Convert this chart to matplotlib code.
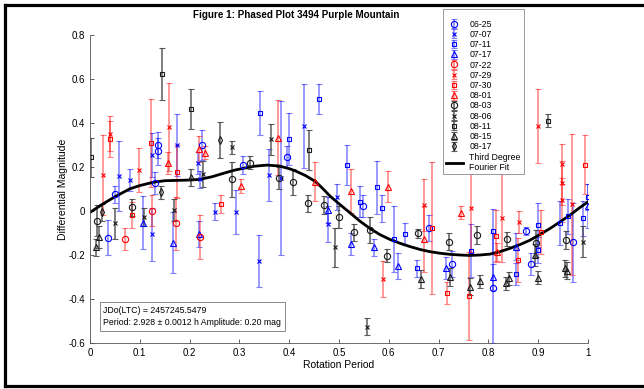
import numpy as np
import matplotlib
matplotlib.use('Agg')
import matplotlib.pyplot as plt
from matplotlib.lines import Line2D
from matplotlib.patches import Rectangle

plt.rcParams['font.family'] = ['Liberation Sans', 'DejaVu Sans']

# phase, differential magnitude and error for each night
p_0625 = [0.037, 0.05, 0.131, 0.137, 0.137, 0.225, 0.308, 0.395, 0.549, 0.681, 0.726, 0.81, 0.875, 0.886, 0.969]
m_0625 = [-0.122, 0.075, 0.128, 0.30, 0.27, 0.30, 0.208, 0.243, 0.022, -0.078, -0.243, -0.353, -0.092, -0.242, -0.143]
e_0625 = [0.08, 0.04, 0.05, 0.06, 0.06, 0.07, 0.04, 0.05, 0.05, 0.06, 0.06, 0.25, 0.02, 0.05, 0.18]

p_0707 = [0.058, 0.08, 0.124, 0.124, 0.175, 0.216, 0.221, 0.251, 0.294, 0.34, 0.359, 0.383, 0.429, 0.478, 0.495]
m_0707 = [0.158, 0.14, -0.107, 0.254, 0.30, 0.216, 0.143, -0.004, -0.007, -0.228, 0.163, 0.15, 0.387, -0.06, 0.064]
e_0707 = [0.16, 0.05, 0.12, 0.10, 0.14, 0.05, 0.04, 0.04, 0.10, 0.12, 0.12, 0.35, 0.19, 0.08, 0.06]

p_0711 = [0.341, 0.40, 0.459, 0.517, 0.542, 0.577, 0.586, 0.61, 0.633, 0.656, 0.766, 0.81, 0.855, 0.90, 0.90, 0.944, 0.96, 0.989, 0.999]
m_0711 = [0.445, 0.327, 0.509, 0.208, 0.041, 0.107, 0.011, -0.13, -0.107, -0.262, -0.181, -0.09, -0.288, -0.065, -0.178, -0.057, -0.025, -0.034, 0.064]
e_0711 = [0.10, 0.12, 0.07, 0.09, 0.07, 0.12, 0.06, 0.15, 0.05, 0.04, 0.12, 0.10, 0.05, 0.10, 0.06, 0.10, 0.08, 0.08, 0.06]

p_0717 = [0.106, 0.167, 0.219, 0.477, 0.524, 0.571, 0.619, 0.715, 0.809, 0.855, 0.999]
m_0717 = [-0.054, -0.145, -0.106, 0.004, -0.153, -0.166, -0.251, -0.262, -0.30, -0.163, 0.022]
e_0717 = [0.12, 0.14, 0.06, 0.06, 0.05, 0.04, 0.06, 0.05, 0.06, 0.06, 0.10]

p_0722 = [0.07, 0.124, 0.173, 0.221]
m_0722 = [-0.127, 0.0, -0.057, -0.12]
e_0722 = [0.05, 0.07, 0.12, 0.10]

p_0729 = [0.027, 0.04, 0.098, 0.159, 0.589, 0.671, 0.766, 0.827, 0.861, 0.90, 0.947, 0.947, 0.947, 0.967]
m_0729 = [0.163, 0.35, 0.186, 0.38, -0.31, 0.026, 0.011, -0.031, -0.052, 0.386, 0.213, 0.125, 0.049, 0.03]
e_0729 = [0.18, 0.08, 0.10, 0.20, 0.08, 0.12, 0.20, 0.20, 0.05, 0.17, 0.09, 0.10, 0.10, 0.32]

p_0730 = [0.04, 0.085, 0.122, 0.174, 0.264, 0.687, 0.716, 0.762, 0.815, 0.86, 0.905, 0.994]
m_0730 = [0.327, -0.019, 0.307, 0.178, 0.03, -0.078, -0.372, -0.388, -0.115, -0.224, -0.095, 0.21]
e_0730 = [0.08, 0.06, 0.20, 0.12, 0.04, 0.30, 0.05, 0.20, 0.12, 0.10, 0.10, 0.135]

p_0801 = [0.157, 0.219, 0.23, 0.303, 0.377, 0.452, 0.524, 0.598, 0.671, 0.744, 0.818]
m_0801 = [0.216, 0.281, 0.264, 0.113, 0.333, 0.133, 0.092, 0.11, -0.13, -0.008, -0.186]
e_0801 = [0.05, 0.06, 0.03, 0.03, 0.17, 0.09, 0.10, 0.07, 0.15, 0.03, 0.04]

p_0803 = [0.015, 0.085, 0.286, 0.321, 0.38, 0.408, 0.438, 0.469, 0.50, 0.53, 0.562, 0.596, 0.659, 0.72, 0.778, 0.837, 0.896, 0.955]
m_0803 = [-0.045, 0.016, 0.143, 0.219, 0.148, 0.13, 0.034, 0.026, -0.027, -0.098, -0.087, -0.205, -0.102, -0.14, -0.11, -0.128, -0.148, -0.133]
e_0803 = [0.07, 0.04, 0.08, 0.03, 0.05, 0.06, 0.04, 0.04, 0.05, 0.04, 0.06, 0.03, 0.02, 0.04, 0.04, 0.03, 0.06, 0.04]

p_0806 = [0.05, 0.109, 0.169, 0.227, 0.286, 0.363, 0.492, 0.557, 0.989]
m_0806 = [-0.057, -0.027, 0.004, 0.167, 0.289, 0.325, -0.166, -0.527, -0.14]
e_0806 = [0.07, 0.04, 0.05, 0.06, 0.03, 0.07, 0.09, 0.04, 0.07]

p_0811 = [0.002, 0.144, 0.203, 0.439, 0.92]
m_0811 = [0.243, 0.622, 0.463, 0.277, 0.41]
e_0811 = [0.09, 0.12, 0.09, 0.09, 0.03]

p_0815 = [0.012, 0.018, 0.202, 0.664, 0.723, 0.764, 0.783, 0.835, 0.842, 0.894, 0.90, 0.954, 0.958]
m_0815 = [-0.166, -0.12, 0.152, -0.31, -0.30, -0.345, -0.32, -0.33, -0.307, -0.20, -0.304, -0.262, -0.272]
e_0815 = [0.04, 0.05, 0.04, 0.04, 0.04, 0.04, 0.03, 0.03, 0.03, 0.05, 0.03, 0.04, 0.04]

p_0817 = [0.025, 0.143, 0.262]
m_0817 = [-0.007, 0.084, 0.322]
e_0817 = [0.04, 0.03, 0.08]

# third degree Fourier fit, sampled along the phase
fit_p = [0.0, 0.025, 0.05, 0.08, 0.10, 0.127, 0.15, 0.20, 0.22, 0.245, 0.267, 0.29, 0.307, 0.33,
         0.355, 0.38, 0.40, 0.413, 0.433, 0.453, 0.468, 0.482, 0.499, 0.522, 0.542, 0.562, 0.582,
         0.602, 0.623, 0.643, 0.663, 0.683, 0.703, 0.723, 0.743, 0.763, 0.783, 0.803, 0.823,
         0.843, 0.864, 0.884, 0.904, 0.924, 0.944, 0.964, 0.982, 1.0]
fit_m = [-0.007, 0.03, 0.064, 0.10, 0.115, 0.13, 0.137, 0.14, 0.143, 0.155, 0.17, 0.185, 0.193, 0.203,
         0.208, 0.204, 0.192, 0.181, 0.16, 0.133, 0.10, 0.067, 0.034, -0.009, -0.047, -0.08, -0.108,
         -0.13, -0.148, -0.163, -0.176, -0.186, -0.193, -0.198, -0.201, -0.203, -0.201, -0.197, -0.186,
         -0.171, -0.153, -0.133, -0.107, -0.08, -0.05, -0.019, 0.012, 0.041]

blue = (0.0, 0.0, 1.0)
red = (1.0, 0.0, 0.0)
black = (0.1, 0.1, 0.1)

series = [
    ('06-25', p_0625, m_0625, e_0625, blue, 'o', 4.5),
    ('07-07', p_0707, m_0707, e_0707, blue, 'x', 3.5),
    ('07-11', p_0711, m_0711, e_0711, blue, 's', 3.5),
    ('07-17', p_0717, m_0717, e_0717, blue, '^', 4.5),
    ('07-22', p_0722, m_0722, e_0722, red, 'o', 4.5),
    ('07-29', p_0729, m_0729, e_0729, red, 'x', 3.5),
    ('07-30', p_0730, m_0730, e_0730, red, 's', 3.5),
    ('08-01', p_0801, m_0801, e_0801, red, '^', 4.5),
    ('08-03', p_0803, m_0803, e_0803, black, 'o', 4.5),
    ('08-06', p_0806, m_0806, e_0806, black, 'x', 3.5),
    ('08-11', p_0811, m_0811, e_0811, black, 's', 3.5),
    ('08-15', p_0815, m_0815, e_0815, black, '^', 4.5),
    ('08-17', p_0817, m_0817, e_0817, black, 'd', 4.0),
]

W, H = 644, 389
fig = plt.figure(figsize=(W / 100, H / 100), dpi=100)
ax = fig.add_axes([90 / W, 1 - 342.7 / H, 498 / W, 307.7 / H])

handles = []
for name, p, m, e, col, mk, ms in series:
    if col == black:
        ecol = (0.25, 0.25, 0.25, 0.85)
    else:
        ecol = col + (0.5,)
    h = ax.errorbar(p, m, yerr=e, fmt=mk, color=col, ecolor=ecol, mfc='none', mec=col,
                    mew=0.8, ms=ms, elinewidth=1.1, capsize=2, capthick=0.9, label=name)
    handles.append(h)

fit_line, = ax.plot(fit_p, fit_m, color='black', lw=2.0, label='Third Degree\nFourier Fit')
handles.append(fit_line)

ax.set_xlim(0, 1)
ax.set_ylim(-0.6, 0.8)
ax.set_xticks(np.arange(0, 1.01, 0.1))
ax.set_xticklabels(['0', '0.1', '0.2', '0.3', '0.4', '0.5', '0.6', '0.7', '0.8', '0.9', '1'])
ax.set_yticks(np.arange(-0.6, 0.81, 0.2))
ax.set_yticklabels(['-0.6', '-0.4', '-0.2', '0', '0.2', '0.4', '0.6', '0.8'])
ax.tick_params(direction='in', length=3, width=0.6, labelsize=7, colors='#444444', labelcolor='black')
for s in ['top', 'right']:
    ax.spines[s].set_visible(False)
for s in ['left', 'bottom']:
    ax.spines[s].set_color('#555555')
    ax.spines[s].set_linewidth(0.6)

ax.set_xlabel('Rotation Period', fontsize=7.5, labelpad=2)
ax.set_ylabel('Differential Magnitude', fontsize=7.5, labelpad=0)

fig.text(296 / W, 1 - 15 / H, 'Figure 1: Phased Plot 3494 Purple Mountain',
         ha='center', va='center', fontsize=7.1, fontweight='bold')

ax.text(0.027, 0.12, 'JDo(LTC) = 2457245.5479\nPeriod: 2.928 \u00b1 0.0012 h Amplitude: 0.20 mag',
        transform=ax.transAxes, ha='left', va='top', fontsize=6.3, linespacing=1.5,
        bbox=dict(boxstyle='square,pad=0.45', fc='white', ec='#888888', lw=0.7))

# legend box drawn on its own, entries placed inside it
fig.add_artist(Rectangle((443 / W, 1 - 174 / H), 81 / W, 165 / H, transform=fig.transFigure,
                         fc='white', ec='#999999', lw=0.7, zorder=4))
leg = fig.legend(handles=handles, loc='upper left', bbox_to_anchor=(443 / W, 1 - 17 / H),
                 fontsize=6.3, frameon=False, labelspacing=0.14, handlelength=2.0,
                 handletextpad=0.7, borderpad=0.3, borderaxespad=0)
leg.set_zorder(5)

# black frame round the figure
for xs, ys in [([5 / W, 5 / W], [1 - 5 / H, 1 - 386 / H]),
               ([5 / W, 1.0], [1 - 5 / H, 1 - 5 / H]),
               ([5 / W, 1.0], [1 - 386 / H, 1 - 386 / H])]:
    fig.add_artist(Line2D(xs, ys, transform=fig.transFigure, color='black', lw=2.3))

fig.savefig('out.png', dpi=100)
